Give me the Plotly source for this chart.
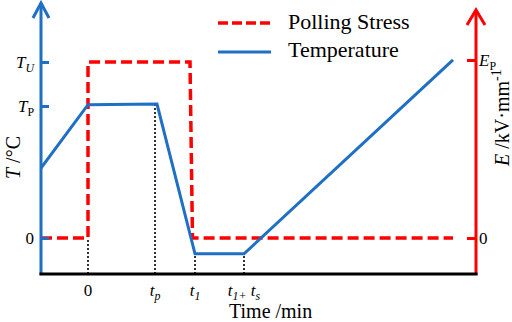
import plotly.graph_objects as go

# ---- data (arbitrary schematic units) ----
temp_time = [-4.7, 0.0, 6.9, 10.7, 15.6, 36.5]
temp_values = [53, 101, 101.5, -12, -12, 135]

stress_time = [-4.7, 0.0, 0.0, 10.2, 10.45, 36.5]
stress_values = [0, 0, 133.3, 133.3, 0, 0]

x_tick_vals = [0.0, 6.7, 10.7, 15.6]
x_tick_text = ["0", "<i>t<sub>p</sub></i>", "<i>t<sub>1</sub></i>", "<i>t<sub>1+</sub> t<sub>s</sub></i>"]
x_guide_top = [0, 101.5, -12, -12]

t_tick_vals = [0, 100, 133.3]
t_tick_text = ["0", "<i>T</i><sub>P</sub>", "<i>T<sub>U</sub></i>"]
e_tick_vals = [0, 134.8]
e_tick_text = ["0", "<i>E</i><sub>P</sub>"]

XR = [-4.7, 38.8]
YR = [-27.27, 176.52]

RED = "#FF0000"
BLUE = "#1F6FC5"
FONT = "Liberation Serif"

W, H = 512, 322
ML, MR, MT, MB = 41, 36, 5, 48
PW, PH = W - ML - MR, H - MT - MB


def px(x):
    return (x - ML) / PW


def py(y):
    return (H - MB - y) / PH


fig = go.Figure()

# guide dotted lines
for xv, top in zip(x_tick_vals, x_guide_top):
    fig.add_trace(go.Scatter(x=[xv, xv], y=[YR[0], top], mode="lines",
                             line=dict(color="black", width=1.6, dash="2px,2px"),
                             showlegend=False, hoverinfo="skip"))

fig.add_trace(go.Scatter(x=stress_time, y=stress_values, mode="lines", name="Polling Stress",
                         line=dict(color=RED, width=3.5, dash="11px,5px"), showlegend=False))
fig.add_trace(go.Scatter(x=temp_time, y=temp_values, mode="lines", name="Temperature",
                         line=dict(color=BLUE, width=3), showlegend=False))
fig.add_trace(go.Scatter(x=[None], y=[None], yaxis="y2", showlegend=False))

shapes = []
# axis lines
shapes.append(dict(type="line", xref="paper", yref="paper", x0=px(41), x1=px(41), y0=py(275), y1=py(3),
                   line=dict(color=BLUE, width=3)))
shapes.append(dict(type="line", xref="paper", yref="paper", x0=px(476), x1=px(476), y0=py(275), y1=py(10),
                   line=dict(color=RED, width=3)))
shapes.append(dict(type="line", xref="paper", yref="paper", x0=px(39.5), x1=px(477.5), y0=py(274), y1=py(274),
                   line=dict(color="black", width=3)))
# arrows
shapes.append(dict(type="path", xref="paper", yref="paper",
                   path=f"M {px(33)} {py(18)} L {px(41)} {py(3)} L {px(49)} {py(18)}",
                   line=dict(color=BLUE, width=3)))
shapes.append(dict(type="path", xref="paper", yref="paper",
                   path=f"M {px(467)} {py(25)} L {px(476)} {py(10)} L {px(485)} {py(25)}",
                   line=dict(color=RED, width=3)))
# legend samples
shapes.append(dict(type="line", xref="paper", yref="paper", x0=px(218), x1=px(271), y0=py(23), y1=py(23),
                   line=dict(color=RED, width=3.5, dash="10px,4px")))
shapes.append(dict(type="line", xref="paper", yref="paper", x0=px(218), x1=px(271), y0=py(52), y1=py(52),
                   line=dict(color=BLUE, width=3)))

annotations = [
    dict(text="Polling Stress", xref="paper", yref="paper", x=px(286), y=py(22), xanchor="left", yanchor="middle",
         showarrow=False, font=dict(family=FONT, size=22, color="black")),
    dict(text="Temperature", xref="paper", yref="paper", x=px(286), y=py(50), xanchor="left", yanchor="middle",
         showarrow=False, font=dict(family=FONT, size=22, color="black")),
    dict(text="<i>T</i> /°C", xref="paper", yref="paper", x=px(13), y=py(158), xanchor="center", yanchor="middle",
         textangle=-90, showarrow=False, font=dict(family=FONT, size=20, color="black")),
    dict(text="<i>E</i> /kV·mm<sup>-1</sup>", xref="paper", yref="paper", x=px(501), y=py(118),
         xanchor="center", yanchor="middle", textangle=-90, showarrow=False,
         font=dict(family=FONT, size=20, color="black")),
    dict(text="Time /min", xref="paper", yref="paper", x=px(270), y=py(311), xanchor="center", yanchor="middle",
         showarrow=False, font=dict(family=FONT, size=20, color="black")),
]

fig.update_layout(
    width=W, height=H,
    margin=dict(l=ML, r=MR, t=MT, b=MB),
    paper_bgcolor="white", plot_bgcolor="white",
    showlegend=False,
    shapes=shapes, annotations=annotations,
    xaxis=dict(range=XR, showgrid=False, zeroline=False, showline=False,
               tickvals=x_tick_vals, ticktext=x_tick_text, ticks="", ticklabelstandoff=4,
               tickfont=dict(family=FONT, size=17, color="black")),
    yaxis=dict(range=YR, showgrid=False, zeroline=False, showline=False,
               tickvals=t_tick_vals, ticktext=t_tick_text, ticks="inside", ticklen=8, tickwidth=3,
               tickcolor=BLUE, ticklabelstandoff=6, tickfont=dict(family=FONT, size=17, color="black")),
    yaxis2=dict(range=YR, overlaying="y", side="right", showgrid=False, zeroline=False, showline=False,
                tickvals=e_tick_vals, ticktext=e_tick_text, ticks="inside", ticklen=9, tickwidth=3,
                tickcolor=RED, ticklabelstandoff=2, tickfont=dict(family=FONT, size=17, color="black")),
)

fig.write_html("out.html", config={"displayModeBar": False},
               post_script="document.body.style.margin='0';document.body.style.overflow='hidden';")
